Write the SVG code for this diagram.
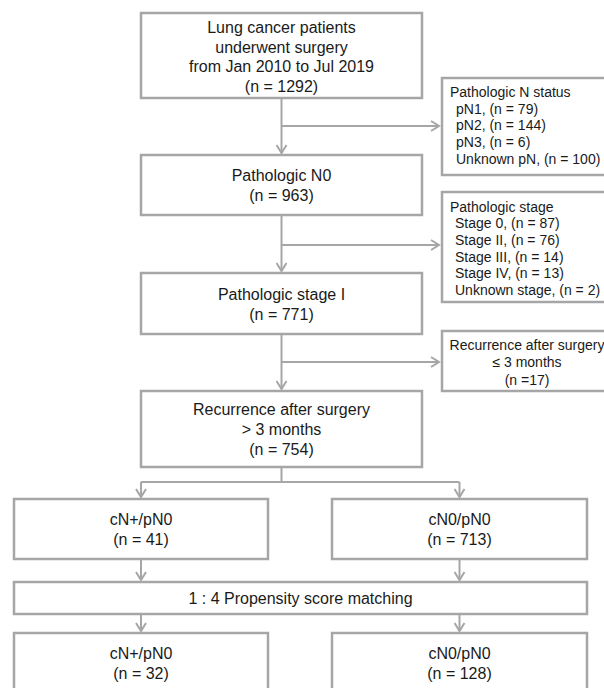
<svg xmlns="http://www.w3.org/2000/svg" width="604" height="688" viewBox="0 0 604 688">
<defs>
<style>
.box{fill:#ffffff;stroke:#a6a6a6;stroke-width:2.5}
.ln{fill:none;stroke:#a6a6a6;stroke-width:2}
.t{font-family:"Liberation Sans",Arial,sans-serif;font-size:16px;fill:#1a1a1a;text-anchor:middle}
.s{font-family:"Liberation Sans",Arial,sans-serif;font-size:14px;fill:#1a1a1a}
.sc{text-anchor:middle}
</style>
<marker id="ah" viewBox="-10 -6 12 12" refX="0" refY="0" markerWidth="12" markerHeight="12" markerUnits="userSpaceOnUse" orient="auto">
<path d="M-8,-5 L0,0 L-8,5" fill="none" stroke="#a6a6a6" stroke-width="2"/>
</marker>
</defs>
<rect width="604" height="688" fill="#ffffff"/>
<g id="connectors">
<path class="ln" d="M281.5,98 V153" marker-end="url(#ah)"/>
<path class="ln" d="M281.5,126 H439" marker-end="url(#ah)"/>
<path class="ln" d="M281.5,215 V271" marker-end="url(#ah)"/>
<path class="ln" d="M281.5,245 H439" marker-end="url(#ah)"/>
<path class="ln" d="M281.5,334 V389" marker-end="url(#ah)"/>
<path class="ln" d="M281.5,362 H439" marker-end="url(#ah)"/>
<path class="ln" d="M281.5,467 V482 M141,482 H459.5"/>
<path class="ln" d="M141,482 V497" marker-end="url(#ah)"/>
<path class="ln" d="M459.5,482 V497" marker-end="url(#ah)"/>
<path class="ln" d="M141,559 V580" marker-end="url(#ah)"/>
<path class="ln" d="M459.5,559 V580" marker-end="url(#ah)"/>
<path class="ln" d="M141,614 V631" marker-end="url(#ah)"/>
<path class="ln" d="M459.5,614 V631" marker-end="url(#ah)"/>
</g>
<g id="n1">
<rect class="box" x="141" y="13" width="281" height="85"/>
<text class="t" x="281.5" y="32.5">Lung cancer patients</text>
<text class="t" x="281.5" y="52.5">underwent surgery</text>
<text class="t" x="281.5" y="72">from Jan 2010 to Jul 2019</text>
<text class="t" x="281.5" y="91.5">(n = 1292)</text>
</g>
<g id="n2">
<rect class="box" x="141" y="155" width="281" height="60"/>
<text class="t" x="281.5" y="181">Pathologic N0</text>
<text class="t" x="281.5" y="201">(n = 963)</text>
</g>
<g id="n3">
<rect class="box" x="141" y="273" width="281" height="61"/>
<text class="t" x="281.5" y="299.5">Pathologic stage I</text>
<text class="t" x="281.5" y="319.5">(n = 771)</text>
</g>
<g id="n4">
<rect class="box" x="141" y="391" width="281" height="76"/>
<text class="t" x="281.5" y="415">Recurrence after surgery</text>
<text class="t" x="281.5" y="435">&gt; 3 months</text>
<text class="t" x="281.5" y="455">(n = 754)</text>
</g>
<g id="exA">
<rect class="box" x="442" y="78" width="175" height="97"/>
<text class="s" x="450" y="97">Pathologic N status</text>
<text class="s" x="456" y="113.7">pN1, (n = 79)</text>
<text class="s" x="456" y="130.4">pN2, (n = 144)</text>
<text class="s" x="456" y="147.1">pN3, (n = 6)</text>
<text class="s" x="456" y="163.8">Unknown pN, (n = 100)</text>
</g>
<g id="exB">
<rect class="box" x="442" y="192" width="175" height="110"/>
<text class="s" x="450" y="211.5">Pathologic stage</text>
<text class="s" x="455" y="228.2">Stage 0, (n = 87)</text>
<text class="s" x="455" y="244.9">Stage II, (n = 76)</text>
<text class="s" x="455" y="261.6">Stage III, (n = 14)</text>
<text class="s" x="455" y="278.3">Stage IV, (n = 13)</text>
<text class="s" x="455" y="295">Unknown stage, (n = 2)</text>
</g>
<g id="exC">
<rect class="box" x="442" y="331" width="175" height="60"/>
<text class="s sc" x="527" y="349.5">Recurrence after surgery</text>
<text class="s sc" x="527" y="367">≤ 3 months</text>
<text class="s sc" x="527" y="384.5">(n =17)</text>
</g>
<g id="n5">
<rect class="box" x="14" y="499" width="254" height="60"/>
<text class="t" x="141" y="525">cN+/pN0</text>
<text class="t" x="141" y="545">(n = 41)</text>
</g>
<g id="n6">
<rect class="box" x="332" y="499" width="255" height="60"/>
<text class="t" x="459.5" y="525">cN0/pN0</text>
<text class="t" x="459.5" y="545">(n = 713)</text>
</g>
<g id="n7">
<rect class="box" x="14" y="582" width="573" height="32"/>
<text class="t" x="300.5" y="603.5">1 : 4 Propensity score matching</text>
</g>
<g id="n8">
<rect class="box" x="14" y="633" width="254" height="60"/>
<text class="t" x="141" y="659">cN+/pN0</text>
<text class="t" x="141" y="679">(n = 32)</text>
</g>
<g id="n9">
<rect class="box" x="332" y="633" width="255" height="60"/>
<text class="t" x="459.5" y="659">cN0/pN0</text>
<text class="t" x="459.5" y="679">(n = 128)</text>
</g>
</svg>
